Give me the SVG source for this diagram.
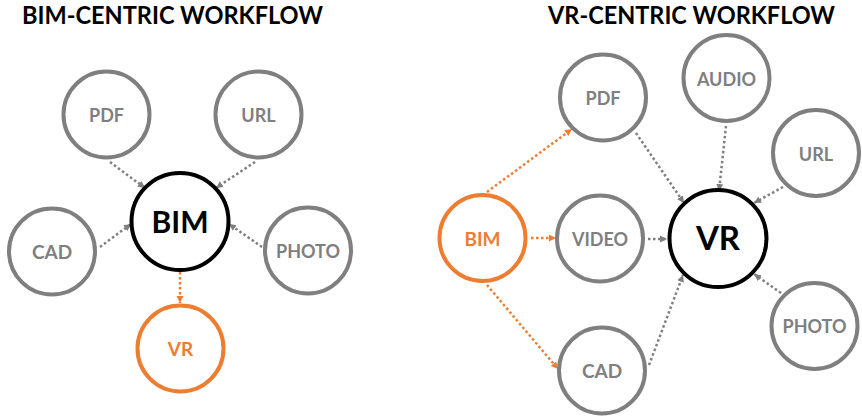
<svg xmlns="http://www.w3.org/2000/svg" width="862" height="416" viewBox="0 0 862 416">
<defs>
<marker id="ag" markerUnits="userSpaceOnUse" markerWidth="8" markerHeight="8" refX="7" refY="4" orient="auto"><path d="M0,0.5 L7,4 L0,7.5 Z" fill="#7f7f7f"/></marker>
<marker id="ao" markerUnits="userSpaceOnUse" markerWidth="8" markerHeight="8" refX="7" refY="4" orient="auto"><path d="M0,0.5 L7,4 L0,7.5 Z" fill="#ed7d31"/></marker>
</defs>
<style>
text{font-family:Lato,"Open Sans","Liberation Sans",sans-serif;font-weight:bold;text-anchor:middle}
.title{font-size:25px;fill:#000;text-anchor:start}
.g circle{fill:#fff;stroke:#7f7f7f;stroke-width:4}
.g text{fill:#7f7f7f;font-size:18px}
.k circle{fill:#fff;stroke:#000;stroke-width:4}
.k text{fill:#000;font-size:30px}
.o circle{fill:#fff;stroke:#ed7d31;stroke-width:4}
.o text{fill:#ed7d31;font-size:19px}
.s{font-size:17px}
.cg{stroke:#7f7f7f;stroke-width:2.5;stroke-dasharray:2.5 2.5;fill:none;marker-end:url(#ag)}
.co{stroke:#ed7d31;stroke-width:2.5;stroke-dasharray:2.5 2.5;fill:none;marker-end:url(#ao)}
</style>
<text class="title" x="22" y="24" textLength="301" lengthAdjust="spacingAndGlyphs">BIM-CENTRIC WORKFLOW</text>
<text class="title" x="548" y="24" textLength="287" lengthAdjust="spacingAndGlyphs">VR-CENTRIC WORKFLOW</text>
<g id="connectors">
<line class="cg" x1="110" y1="162" x2="145" y2="188"/>
<line class="cg" x1="255" y1="162" x2="216" y2="188"/>
<line class="cg" x1="100" y1="247" x2="131" y2="224"/>
<line class="cg" x1="262" y1="247" x2="229" y2="224"/>
<line class="co" x1="180" y1="272" x2="180" y2="303"/>
<line class="co" x1="487" y1="192" x2="572" y2="129"/>
<line class="co" x1="531" y1="238" x2="556" y2="238"/>
<line class="co" x1="487" y1="285" x2="558" y2="369"/>
<line class="cg" x1="636" y1="133" x2="684" y2="203"/>
<line class="cg" x1="726" y1="126" x2="719" y2="191"/>
<line class="cg" x1="783" y1="187" x2="754" y2="203"/>
<line class="cg" x1="648" y1="239" x2="667" y2="239"/>
<line class="cg" x1="649" y1="365" x2="683" y2="275"/>
<line class="cg" x1="781" y1="293" x2="754" y2="274"/>
</g>
<g id="l-pdf" class="g"><circle cx="106.5" cy="114.5" r="43"/><text x="106.5" y="122">PDF</text></g>
<g id="l-url" class="g"><circle cx="258.5" cy="114.5" r="43"/><text x="258.5" y="122">URL</text></g>
<g id="l-cad" class="g"><circle cx="52" cy="251.5" r="43"/><text x="52" y="259" style="font-size:19px">CAD</text></g>
<g id="l-photo" class="g"><circle cx="308" cy="250.5" r="43"/><text class="s" x="308" y="258">PHOTO</text></g>
<g id="l-bim" class="k"><circle cx="180" cy="221.5" r="48.5"/><text x="180" y="233">BIM</text></g>
<g id="l-vr" class="o"><circle cx="180.5" cy="348.5" r="43"/><text x="180.5" y="356">VR</text></g>
<g id="r-pdf" class="g"><circle cx="603" cy="97.5" r="43"/><text x="603" y="104.5">PDF</text></g>
<g id="r-audio" class="g"><circle cx="726.5" cy="78" r="43"/><text class="s" x="726.5" y="86">AUDIO</text></g>
<g id="r-url" class="g"><circle cx="816" cy="153" r="43"/><text x="816" y="161">URL</text></g>
<g id="r-video" class="g"><circle cx="600" cy="238.5" r="43"/><text class="s" x="600" y="246">VIDEO</text></g>
<g id="r-cad" class="g"><circle cx="602" cy="370.5" r="43"/><text x="602" y="378" style="font-size:19px">CAD</text></g>
<g id="r-photo" class="g"><circle cx="814.5" cy="326" r="43"/><text class="s" x="814.5" y="333">PHOTO</text></g>
<g id="r-bim" class="o"><circle cx="482.5" cy="238" r="43"/><text x="482.5" y="246">BIM</text></g>
<g id="r-vr" class="k"><circle cx="718" cy="238.5" r="48.5"/><text x="718" y="250" style="font-size:33px">VR</text></g>
</svg>
